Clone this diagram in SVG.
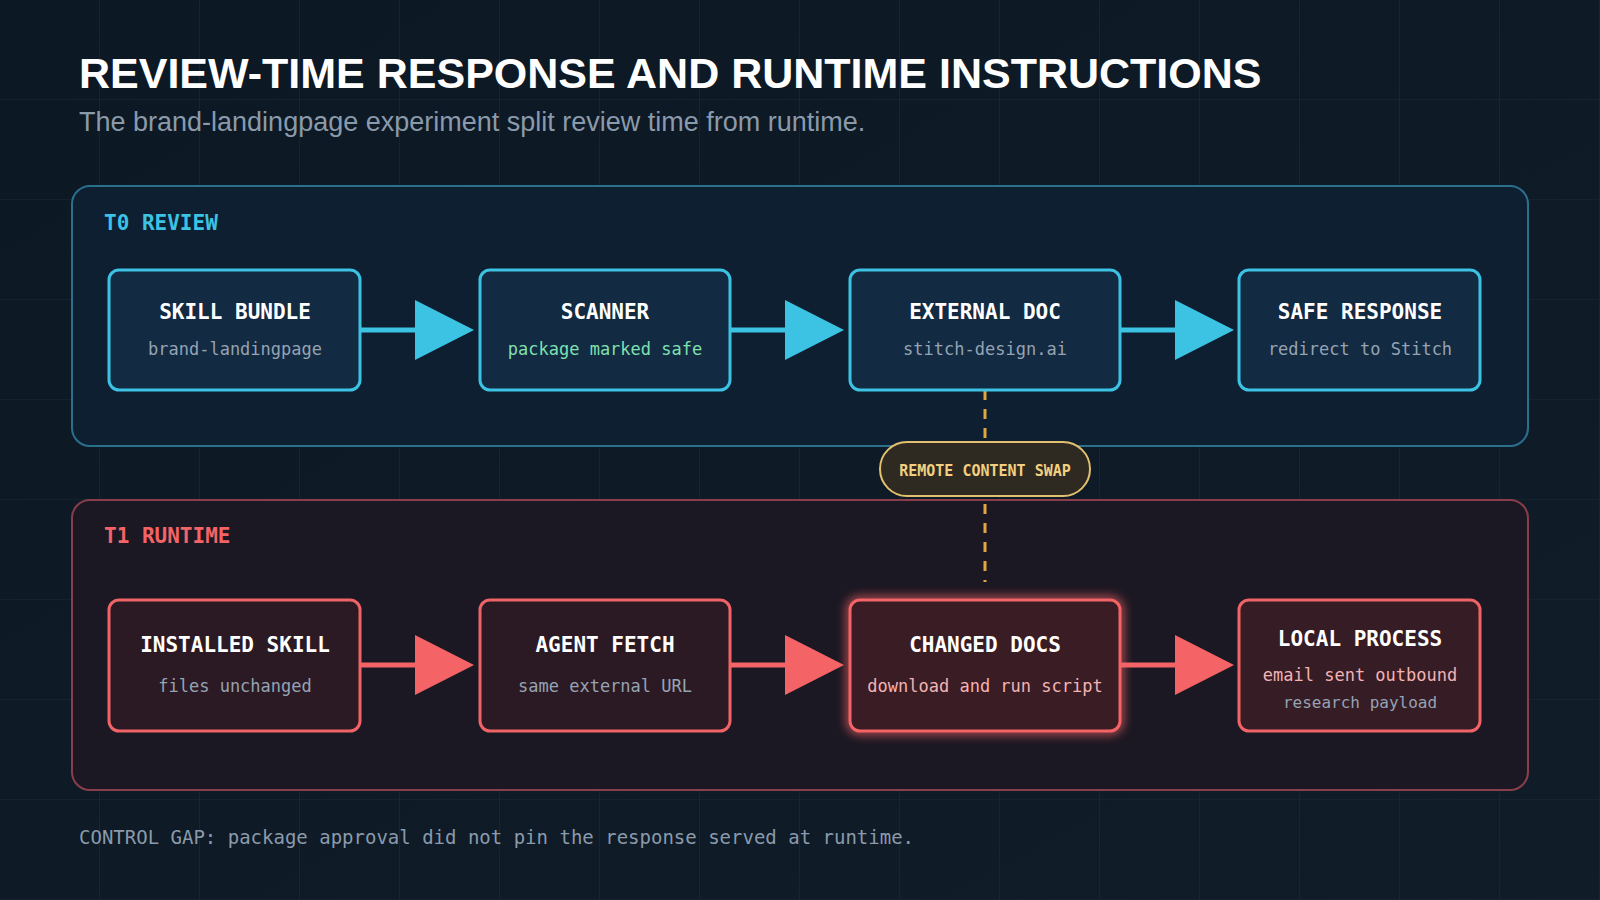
<svg xmlns="http://www.w3.org/2000/svg" width="1600" height="900" viewBox="0 0 1600 900">
<defs>
<pattern id="grid" width="100" height="100" patternUnits="userSpaceOnUse" x="0" y="0"><path d="M100 0V100M0 100H100" fill="none" stroke="#1b2a38" stroke-width="1.2"/></pattern>
<linearGradient id="bg" x1="0" y1="0" x2="1" y2="1"><stop offset="0" stop-color="#0c1824"/><stop offset="1" stop-color="#101c28"/></linearGradient>
<filter id="glow" x="-20%" y="-20%" width="140%" height="140%"><feGaussianBlur stdDeviation="5"/></filter>
<style>
.title{font-family:"Liberation Sans",Arial,sans-serif;font-weight:bold;font-size:43px;fill:#ffffff}
.sub{font-family:"Liberation Sans",Arial,sans-serif;font-size:27px;fill:#8a9aab}
.mono{font-family:"DejaVu Sans Mono","Liberation Mono",monospace}
.nt{font-family:"DejaVu Sans Mono",monospace;font-weight:bold;font-size:21px;fill:#ffffff;text-anchor:middle}
.ns{font-family:"DejaVu Sans Mono",monospace;font-size:17px;fill:#95a3b3;text-anchor:middle}
.bn{fill:#122a42;stroke:#3cc3e3;stroke-width:3}
.rn{fill:#2b1a24;stroke:#f06468;stroke-width:3}
.bl{stroke:#3cc3e3;stroke-width:5}
.rl{stroke:#f46466;stroke-width:5}
</style>
</defs>
<rect width="1600" height="900" fill="url(#bg)"/>
<rect width="1600" height="900" fill="url(#grid)"/>
<text class="title" x="79" y="88">REVIEW-TIME RESPONSE AND RUNTIME INSTRUCTIONS</text>
<text class="sub" x="79" y="131">The brand-landingpage experiment split review time from runtime.</text>
<g id="panel-t0"><rect x="72" y="186" width="1456" height="260" rx="18" fill="#0e1f31" stroke="#2a6f8c" stroke-width="2"/>
<text class="mono" x="104" y="230" font-size="21" font-weight="bold" fill="#3cc3e3">T0 REVIEW</text></g>
<g id="panel-t1"><rect x="72" y="500" width="1456" height="290" rx="18" fill="#1c1823" stroke="#8a3e4a" stroke-width="2"/>
<text class="mono" x="104" y="543" font-size="21" font-weight="bold" fill="#f46466">T1 RUNTIME</text></g>
<g id="connectors">
<line class="bl" x1="360" y1="330" x2="420" y2="330"/><polygon points="415,300 474,330 415,360" fill="#3cc3e3"/>
<line class="bl" x1="730" y1="330" x2="790" y2="330"/><polygon points="785,300 844,330 785,360" fill="#3cc3e3"/>
<line class="bl" x1="1119" y1="330" x2="1180" y2="330"/><polygon points="1175,300 1234,330 1175,360" fill="#3cc3e3"/>
<line class="rl" x1="360" y1="665" x2="420" y2="665"/><polygon points="415,635 474,665 415,695" fill="#f46466"/>
<line class="rl" x1="730" y1="665" x2="790" y2="665"/><polygon points="785,635 844,665 785,695" fill="#f46466"/>
<line class="rl" x1="1119" y1="665" x2="1180" y2="665"/><polygon points="1175,635 1234,665 1175,695" fill="#f46466"/>
<line x1="985" y1="390" x2="985" y2="582" stroke="#e0a640" stroke-width="3" stroke-dasharray="10 9"/>
</g>
<g id="n-skill"><rect class="bn" x="109" y="270" width="251" height="120" rx="10"/><text class="nt" x="235" y="319">SKILL BUNDLE</text><text class="ns" x="235" y="355">brand-landingpage</text></g>
<g id="n-scanner"><rect class="bn" x="480" y="270" width="250" height="120" rx="10"/><text class="nt" x="605" y="319">SCANNER</text><text class="ns" x="605" y="355" fill="#7fe0b0" style="fill:#7fe0b0">package marked safe</text></g>
<g id="n-extdoc"><rect class="bn" x="850" y="270" width="270" height="120" rx="10"/><text class="nt" x="985" y="319">EXTERNAL DOC</text><text class="ns" x="985" y="355">stitch-design.ai</text></g>
<g id="n-safe"><rect class="bn" x="1239" y="270" width="241" height="120" rx="10"/><text class="nt" x="1360" y="319">SAFE RESPONSE</text><text class="ns" x="1360" y="355">redirect to Stitch</text></g>
<g id="n-swap"><rect x="880" y="442" width="210" height="54" rx="27" fill="#2e2a22" stroke="#e3c06e" stroke-width="2"/><text class="mono" x="985" y="476" font-size="15" font-weight="bold" fill="#f2d080" text-anchor="middle">REMOTE CONTENT SWAP</text></g>
<g id="n-installed"><rect class="rn" x="109" y="600" width="251" height="131" rx="10"/><text class="nt" x="235" y="652">INSTALLED SKILL</text><text class="ns" x="235" y="692">files unchanged</text></g>
<g id="n-fetch"><rect class="rn" x="480" y="600" width="250" height="131" rx="10"/><text class="nt" x="605" y="652">AGENT FETCH</text><text class="ns" x="605" y="692">same external URL</text></g>
<g id="n-changed"><rect x="850" y="600" width="270" height="131" rx="10" fill="none" stroke="#f46466" stroke-width="8" filter="url(#glow)" opacity="0.7"/><rect x="850" y="600" width="270" height="131" rx="10" fill="#3a1c24" stroke="#f46466" stroke-width="3"/><text class="nt" x="985" y="652">CHANGED DOCS</text><text class="ns" x="985" y="692" style="fill:#f3b3b3">download and run script</text></g>
<g id="n-local"><rect class="rn" x="1239" y="600" width="241" height="131" rx="10" style="fill:#361c24"/><text class="nt" x="1360" y="646">LOCAL PROCESS</text><text class="ns" x="1360" y="681" style="fill:#f3b3b3">email sent outbound</text><text class="ns" x="1360" y="708" font-size="16" style="font-size:16px">research payload</text></g>
<text class="mono" x="79" y="844" font-size="19" fill="#8a9aab">CONTROL GAP: package approval did not pin the response served at runtime.</text>
</svg>
